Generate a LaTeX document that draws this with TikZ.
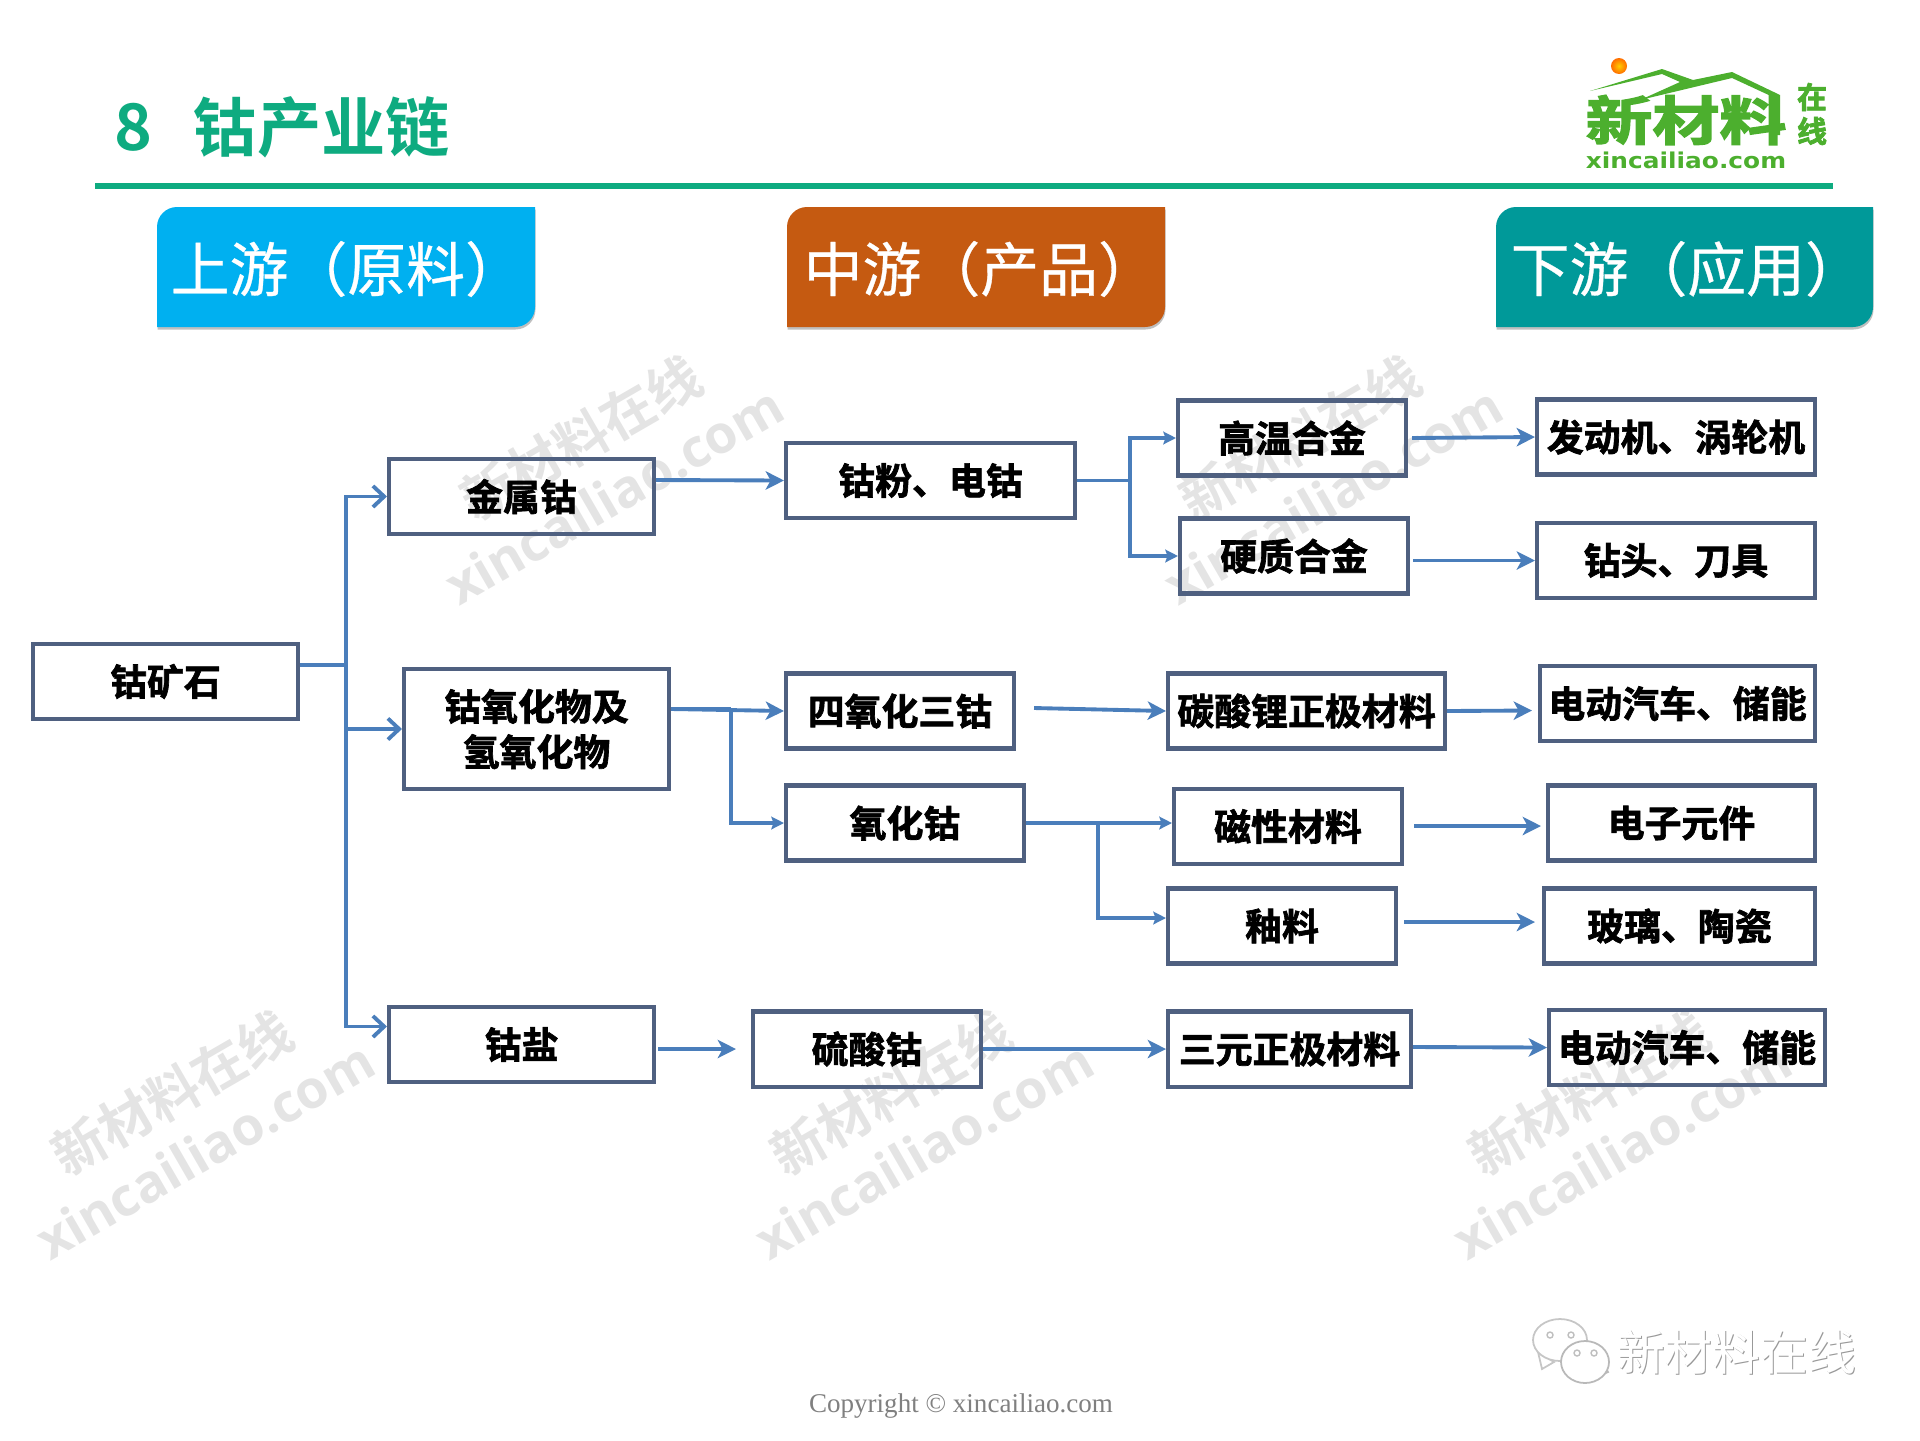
\documentclass[tikz,border=0pt]{standalone}
\usepackage{fontspec}
\usepackage{xcolor}
\usetikzlibrary{arrows.meta, positioning, calc, shadows}
\setmainfont{Noto Sans CJK SC}
\newfontfamily\boxfont[FakeBold=1.8]{Noto Sans CJK SC Bold}
\newfontfamily\logocjk[FakeBold=2.5]{Noto Sans CJK SC Bold}
\newfontfamily\titlefont{Noto Sans CJK SC Bold}
\newfontfamily\headfont[FakeBold=0.5]{Noto Sans CJK SC}
\newfontfamily\wmfont{Open Sans Bold}
\newfontfamily\logofont{DejaVu Sans Bold}
\newfontfamily\copyfont{Liberation Serif}
\definecolor{framecolor}{HTML}{4F6080}
\definecolor{linkcolor}{HTML}{4A7EBB}
\definecolor{titlegreen}{HTML}{0EAB80}
\definecolor{logogreen}{HTML}{4CAF2E}
\definecolor{upcolor}{HTML}{00B0F0}
\definecolor{midcolor}{HTML}{C55A11}
\definecolor{downcolor}{HTML}{009999}
\definecolor{wmcolor}{HTML}{E4E4E4}

\begin{document}
\begin{tikzpicture}[
    node distance=1.5cm,
    box/.style={rectangle, minimum width=2.28cm, minimum height=0.75cm, inner sep=0pt, text centered, align=center, draw=framecolor, line width=1.15pt, font=\boxfont\fontsize{10.5}{12.9}\selectfont},
    link/.style={draw=linkcolor, line width=1.1pt},
    arrow/.style={link, -{Stealth[length=5.2pt, width=5.2pt, inset=1.4pt]}},
    smallarrow/.style={link, -{Stealth[length=3.6pt, width=3.6pt, inset=0.6pt]}},
    openarrow/.style={link, -{Straight Barb[length=3.2pt, width=6pt, line width=1.1pt]}},
    headbox/.style={drop shadow={shadow xshift=0.005cm, shadow yshift=-0.025cm, opacity=0.5}},
    headtext/.style={anchor=west, inner sep=0pt, text=white, font=\headfont\fontsize{16.75}{16.75}\selectfont},
    wmcjk/.style={rotate=30, text=wmcolor, inner sep=0pt, font=\titlefont\fontsize{15.2}{15.2}\selectfont},
    wmlatin/.style={rotate=30, text=wmcolor, inner sep=0pt, font=\wmfont\fontsize{15}{15}\selectfont}
]
\useasboundingbox (0,0) rectangle (19.2,-14.4);

% watermarks
\node (wmatop) [wmcjk] at (5.81,-4.38) {新材料在线};
\node (wmalat) [wmlatin] at (6.14,-4.95) {xincailiao.com};
\node (wmbtop) [wmcjk] at (13.0,-4.38) {新材料在线};
\node (wmblat) [wmlatin] at (13.33,-4.95) {xincailiao.com};
\node (wmctop) [wmcjk] at (1.72,-10.93) {新材料在线};
\node (wmclat) [wmlatin] at (2.05,-11.5) {xincailiao.com};
\node (wmdtop) [wmcjk] at (8.91,-10.93) {新材料在线};
\node (wmdlat) [wmlatin] at (9.24,-11.5) {xincailiao.com};
\node (wmetop) [wmcjk] at (15.89,-10.93) {新材料在线};
\node (wmelat) [wmlatin] at (16.22,-11.5) {xincailiao.com};

% title
\node (eight) [anchor=center, inner sep=0pt, text=titlegreen, font=\titlefont\fontsize{18.3}{18.3}\selectfont] at (1.33,-1.27) {8};
\node (title) [anchor=west, inner sep=0pt, text=titlegreen, font=\titlefont\fontsize{18.3}{18.3}\selectfont] at (1.92,-1.27) {钴产业链};
\fill [titlegreen] (0.95,-1.83) rectangle (18.33,-1.89);

% logo
\shade [inner color=yellow!60!orange, outer color=orange!85!red] (16.19,-0.66) circle (0.08);
\fill [logogreen] (15.9,-0.91) -- (16.62,-0.69) -- (16.93,-0.8) -- (17.32,-0.72) -- (17.8,-0.95) -- (17.8,-1.35) -- (17.73,-1.35) -- (17.73,-0.97) -- (17.32,-0.78) -- (16.4,-1.0) -- (16.8,-0.82) -- (16.62,-0.74) -- cycle;
\node (logomain) [inner sep=0pt, text=logogreen, xscale=1.27, font=\logocjk\fontsize{15}{15}\selectfont] at (16.86,-1.2) {新材料};
\node (logozai) [inner sep=0pt, text=logogreen, font=\logocjk\fontsize{8.5}{8.5}\selectfont] at (18.12,-0.97) {在};
\node (logoxian) [inner sep=0pt, text=logogreen, font=\logocjk\fontsize{8.5}{8.5}\selectfont] at (18.12,-1.31) {线};
\node (logourl) [inner sep=0pt, text=logogreen, xscale=1.14, font=\logofont\fontsize{6.2}{6.2}\selectfont] at (16.86,-1.6) {xincailiao.com};

% headers
\fill [upcolor, headbox] (3.4,-2.07) [sharp corners] -- (5.35,-2.07) -- (5.35,-2.7) [rounded corners=0.2cm] -- (5.35,-3.27) -- (3.4,-3.27) [sharp corners] -- (1.57,-3.27) -- (1.57,-2.7) [rounded corners=0.2cm] -- (1.57,-2.07) -- cycle;
\fill [midcolor, headbox] (9.8,-2.07) [sharp corners] -- (11.65,-2.07) -- (11.65,-2.7) [rounded corners=0.2cm] -- (11.65,-3.27) -- (9.8,-3.27) [sharp corners] -- (7.87,-3.27) -- (7.87,-2.7) [rounded corners=0.2cm] -- (7.87,-2.07) -- cycle;
\fill [downcolor, headbox] (16.8,-2.07) [sharp corners] -- (18.73,-2.07) -- (18.73,-2.7) [rounded corners=0.2cm] -- (18.73,-3.27) -- (16.8,-3.27) [sharp corners] -- (14.96,-3.27) -- (14.96,-2.7) [rounded corners=0.2cm] -- (14.96,-2.07) -- cycle;
\node (uphead) [headtext] at (1.7,-2.69) {上游（原料）};
\node (midhead) [headtext] at (8.03,-2.69) {中游（产品）};
\node (downhead) [headtext] at (15.1,-2.69) {下游（应用）};

% first column
\node (ore) [box, minimum width=2.65cm] at (1.655,-6.815) {钴矿石};
\node (metal) [box, minimum width=2.65cm, right of=ore, xshift=2.06cm, yshift=1.85cm] {金属钴};
\node (oxide) [box, minimum width=2.65cm, minimum height=1.2cm, right of=ore, xshift=2.21cm, yshift=-0.475cm] {钴氧化物及\\氢氧化物};
\node (salt) [box, minimum width=2.65cm, right of=ore, xshift=2.06cm, yshift=-3.63cm] {钴盐};

% products
\node (powder) [box, minimum width=2.89cm, right of=metal, xshift=2.59cm, yshift=0.16cm] {钴粉、电钴};
\node (tetroxide) [box, right of=oxide, xshift=2.135cm, yshift=0.18cm] {四氧化三钴};
\node (monoxide) [box, minimum width=2.38cm, below of=tetroxide, xshift=0.05cm, yshift=0.38cm] {氧化钴};
\node (sulfate) [box, right of=salt, xshift=1.955cm, yshift=-0.045cm] {硫酸钴};

% materials
\node (hightemp) [box, right of=powder, xshift=2.115cm, yshift=0.425cm] {高温合金};
\node (hardalloy) [box, below of=hightemp, xshift=0.02cm, yshift=0.32cm] {硬质合金};
\node (cathode) [box, minimum width=2.77cm, right of=tetroxide, xshift=2.565cm] {碳酸锂正极材料};
\node (magnetic) [box, right of=monoxide, xshift=2.33cm, yshift=-0.035cm] {磁性材料};
\node (glaze) [box, below of=magnetic, xshift=-0.06cm, yshift=0.505cm] {釉料};
\node (ternary) [box, minimum width=2.43cm, right of=sulfate, xshift=2.725cm] {三元正极材料};

% applications
\node (engine) [box, minimum width=2.78cm, right of=hightemp, xshift=2.34cm, yshift=0.01cm] {发动机、涡轮机};
\node (drill) [box, minimum width=2.78cm, right of=hardalloy, xshift=2.32cm, yshift=-0.045cm] {钻头、刀具};
\node (evone) [box, minimum width=2.75cm, right of=cathode, xshift=2.21cm, yshift=0.075cm] {电动汽车、储能};
\node (electronic) [box, minimum width=2.67cm, right of=magnetic, xshift=2.435cm, yshift=0.035cm] {电子元件};
\node (glass) [box, minimum width=2.71cm, right of=glaze, xshift=2.475cm] {玻璃、陶瓷};
\node (evtwo) [box, minimum width=2.76cm, right of=ternary, xshift=2.475cm, yshift=0.015cm] {电动汽车、储能};

% connectors
\coordinate (oretrunk) at ($(ore.east)+(0.46,0.165)$);
\coordinate (powderjoint) at ($(powder.east)+(0.53,0)$);
\coordinate (oxidejoint) at ($(oxide.east)+(0.6,0.2)$);
\coordinate (monoxidejoint) at ($(monoxide.east)+(0.72,0)$);
\draw [link] ([yshift=0.165cm]ore.east) -- (oretrunk);
\draw [openarrow] (oretrunk) |- (metal.west);
\draw [openarrow] (oretrunk) |- (oxide.west);
\draw [openarrow] (oretrunk) |- ([yshift=0.18cm]salt.west);
\draw [arrow] ([yshift=0.165cm]metal.east) -- (powder.west);
\draw [link] (powder.east) -- (powderjoint);
\draw [smallarrow] (powderjoint) |- (hightemp.west);
\draw [smallarrow] (powderjoint) |- (hardalloy.west);
\draw [arrow] ([xshift=0.04cm]hightemp.east) -- (engine.west);
\draw [arrow] ([xshift=0.03cm]hardalloy.east |- drill.west) -- (drill.west);
\draw [arrow] ([yshift=0.2cm]oxide.east) -- (tetroxide.west);
\draw [link] ([yshift=0.2cm]oxide.east) -- (oxidejoint);
\draw [smallarrow] (oxidejoint) |- (monoxide.west);
\draw [arrow] ([xshift=0.18cm,yshift=0.03cm]tetroxide.east) -- (cathode.west);
\draw [arrow] (cathode.east) -- ([xshift=-0.06cm,yshift=-0.07cm]evone.west);
\draw [smallarrow] (monoxide.east) -- ([yshift=0.035cm]magnetic.west);
\draw [smallarrow] (monoxidejoint) |- ([yshift=0.08cm]glaze.west);
\draw [arrow] ([xshift=0.1cm,yshift=0.005cm]magnetic.east) -- ([xshift=-0.05cm,yshift=-0.03cm]electronic.west);
\draw [arrow] ([xshift=0.06cm,yshift=0.04cm]glaze.east) -- ([xshift=-0.07cm,yshift=0.04cm]glass.west);
\draw [arrow] ([xshift=0.02cm,yshift=-0.045cm]salt.east) -- ([xshift=-0.15cm]sulfate.west);
\draw [arrow] (sulfate.east) -- (ternary.west);
\draw [arrow] ([yshift=0.02cm]ternary.east) -- (evtwo.west);

% wechat mark
\draw [gray!45, fill=white, line width=0.5pt] (15.38,-13.52) .. controls (15.4,-13.6) .. (15.42,-13.69) -- (15.54,-13.62) -- cycle;
\draw [gray!45, fill=white, line width=0.5pt] (15.6,-13.4) ellipse (0.27 and 0.21);
\draw [gray!55, fill=white, line width=0.5pt] (16.08,-13.72) -- (16.03,-13.63) -- (15.94,-13.78) -- cycle;
\draw [gray!55, fill=white, line width=0.5pt] (15.85,-13.62) ellipse (0.24 and 0.21);
\draw [gray!50] (15.5,-13.35) circle (0.03);
\draw [gray!50] (15.71,-13.35) circle (0.03);
\draw [gray!50] (15.77,-13.53) circle (0.03);
\draw [gray!50] (15.94,-13.53) circle (0.03);
\node (wxshade) [inner sep=0pt, text=gray!80, font=\fontsize{13.6}{13.6}\selectfont] at (17.375,-13.53) {新材料在线};
\node (wxtext) [inner sep=0pt, text=white, font=\fontsize{13.6}{13.6}\selectfont] at (17.365,-13.52) {新材料在线};

% footer
\node (copyright) [inner sep=0pt, text=gray, font=\copyfont\fontsize{7.7}{7.7}\selectfont] at (9.61,-14.06) {Copyright © xincailiao.com};
\end{tikzpicture}
\end{document}
